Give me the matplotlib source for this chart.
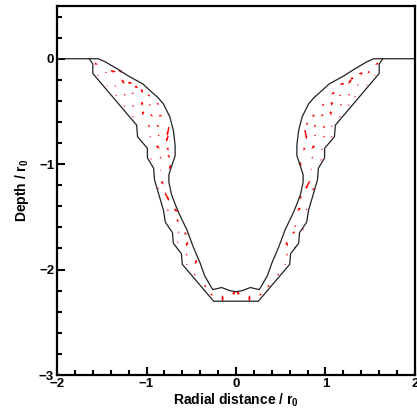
import numpy as np
import matplotlib
matplotlib.use('Agg')
import matplotlib.pyplot as plt
from matplotlib.ticker import MultipleLocator

plt.rcParams['font.family'] = ['Liberation Sans', 'DejaVu Sans']
plt.rcParams['font.weight'] = 'bold'
plt.rcParams['mathtext.fontset'] = 'custom'
plt.rcParams['mathtext.rm'] = 'Liberation Sans:bold'
plt.rcParams['mathtext.it'] = 'Liberation Sans:bold'
plt.rcParams['mathtext.bf'] = 'Liberation Sans:bold'

# crater surface (upper boundary of the deformed zone)
surf_x = [-2.00, -1.54, -1.46, -1.32, -1.21, -1.04, -0.95, -0.87, -0.81, -0.74, -0.70,
          -0.68, -0.68, -0.72, -0.75, -0.75, -0.72, -0.67, -0.63, -0.55, -0.48, -0.40,
          -0.35, -0.26, -0.16, -0.07, 0.00,
          0.07, 0.16, 0.26, 0.35, 0.40, 0.48, 0.55, 0.63, 0.67, 0.72, 0.75, 0.75, 0.72,
          0.68, 0.68, 0.70, 0.74, 0.81, 0.87, 0.95, 1.04, 1.21, 1.32, 1.46, 1.54, 2.00]
surf_y = [0.00, 0.00, -0.03, -0.10, -0.16, -0.24, -0.31, -0.37, -0.43, -0.55, -0.68,
          -0.82, -0.92, -1.02, -1.10, -1.17, -1.29, -1.40, -1.48, -1.62, -1.78, -1.94,
          -2.06, -2.19, -2.17, -2.20, -2.21,
          -2.20, -2.17, -2.19, -2.06, -1.94, -1.78, -1.62, -1.48, -1.40, -1.29, -1.17, -1.10, -1.02,
          -0.92, -0.82, -0.68, -0.55, -0.43, -0.37, -0.31, -0.24, -0.16, -0.10, -0.03, 0.00, 0.00]

# lower boundary of the deformed zone
base_x = [-1.64, -1.60, -1.60, -1.11, -1.10, -0.99, -0.99, -0.92, -0.91, -0.81, -0.79,
          -0.71, -0.70, -0.61, -0.60, -0.25,
          0.25, 0.60, 0.61, 0.70, 0.71, 0.79, 0.81, 0.91, 0.92, 0.99, 0.99, 1.10, 1.11,
          1.60, 1.60, 1.64]
base_y = [0.00, -0.05, -0.14, -0.63, -0.74, -0.85, -0.94, -1.04, -1.15, -1.44, -1.55,
          -1.65, -1.75, -1.85, -1.95, -2.30,
          -2.30, -1.95, -1.85, -1.75, -1.65, -1.55, -1.44, -1.15, -1.04, -0.94, -0.85, -0.74, -0.63,
          -0.14, -0.05, 0.00]

# velocity vectors, left half
vl_x = [-1.56, -1.50, -1.45, -1.37, -1.29, -1.54, -1.35, -1.26, -1.18, -1.11, -1.44, -1.34,
        -1.24, -1.15, -1.05, -0.97, -1.25, -1.15, -1.05, -0.96, -0.87, -1.15, -1.04, -0.94,
        -0.84, -0.97, -0.87, -0.76, -0.96, -0.86, -0.77, -0.87, -0.76, -0.95, -0.84, -0.75,
        -0.74, -0.84, -0.82, -0.77, -0.87, -0.76, -0.67, -0.65, -0.64, -0.56, -0.65, -0.55,
        -0.55, -0.45, -0.55, -0.46, -0.34, -0.27, -0.15, -0.02]
vl_y = [-0.05, -0.02, -0.13, -0.12, -0.12, -0.16, -0.26, -0.22, -0.23, -0.27, -0.26, -0.35,
        -0.34, -0.33, -0.31, -0.35, -0.45, -0.45, -0.43, -0.44, -0.43, -0.55, -0.52, -0.54,
        -0.54, -0.64, -0.64, -0.69, -0.74, -0.73, -0.76, -0.84, -0.86, -0.95, -0.94, -0.93,
        -1.03, -1.06, -1.18, -1.31, -1.23, -1.44, -1.44, -1.54, -1.65, -1.66, -1.74, -1.76,
        -1.86, -1.93, -1.95, -2.05, -2.16, -2.24, -2.27, -2.22]
vl_u = [0.034, 0.011, 0.022, 0.056, 0.034, 0.011, 0.0, 0.034, 0.045, 0.034, 0.011, 0.0,
        0.022, 0.022, 0.011, 0.022, 0.0, 0.011, 0.0, 0.022, 0.022, 0.0, -0.011, 0.022,
        0.034, 0.022, 0.022, -0.022, 0.0, 0.022, -0.022, 0.034, 0.011, 0.0, 0.022, 0.011,
        -0.022, 0.011, 0.022, 0.045, 0.0, 0.011, 0.034, 0.011, 0.0, 0.034, 0.0, -0.022,
        0.011, -0.022, 0.0, 0.011, 0.022, 0.022, 0.0, 0.034]
vl_v = [-0.010, -0.010, 0.0, -0.010, -0.029, -0.010, -0.010, -0.038, -0.010, -0.019, -0.010, -0.010,
        0.010, -0.010, -0.038, -0.019, -0.010, -0.019, -0.038, -0.010, -0.019, -0.010, -0.038, -0.019,
        0.0, -0.019, -0.019, -0.086, -0.010, -0.010, -0.057, -0.029, -0.029, -0.010, -0.010, -0.029,
        -0.038, -0.010, -0.029, -0.076, -0.010, -0.019, -0.029, -0.029, -0.019, -0.010, -0.010, -0.038,
        -0.019, -0.038, -0.010, -0.019, -0.019, -0.019, 0.057, 0.029]

# velocity vectors, right half
vr_x = [1.57, 1.48, 1.39, 1.29, 1.55, 1.46, 1.36, 1.27, 1.18, 1.08, 1.16, 1.26, 1.33,
        0.97, 1.07, 1.17, 1.26, 0.86, 0.96, 1.06, 1.16, 0.79, 0.88, 0.98, 1.07, 0.78,
        0.88, 0.98, 1.07, 0.76, 0.86, 0.96, 0.72, 0.85, 0.95, 0.84, 0.80, 0.86, 0.72,
        0.79, 0.70, 0.66, 0.75, 0.64, 0.57, 0.66, 0.57, 0.55, 0.47, 0.36, 0.27, 0.15, 0.02]
vr_y = [-0.05, -0.13, -0.14, -0.19, -0.16, -0.25, -0.25, -0.22, -0.24, -0.33, -0.35, -0.34, -0.36,
        -0.44, -0.43, -0.44, -0.44, -0.54, -0.54, -0.52, -0.55, -0.62, -0.64, -0.65, -0.64, -0.72,
        -0.73, -0.74, -0.74, -0.86, -0.84, -0.86, -1.00, -0.94, -0.96, -1.05, -1.20, -1.24, -1.32,
        -1.43, -1.43, -1.59, -1.62, -1.65, -1.76, -1.79, -1.86, -1.95, -2.05, -2.16, -2.24, -2.27, -2.22]
vr_u = [-0.034, -0.022, -0.045, -0.034, -0.011, -0.011, 0.0, -0.034, -0.045, -0.034, -0.022, -0.022, 0.0,
        -0.022, 0.0, -0.011, 0.0, -0.034, -0.022, 0.011, 0.0, -0.022, -0.022, -0.022, 0.0, 0.022,
        -0.022, -0.022, 0.0, -0.011, -0.034, 0.0, 0.022, -0.022, 0.0, -0.011, -0.045, -0.022, -0.011,
        0.0, -0.034, -0.011, 0.0, -0.034, 0.022, 0.0, -0.011, 0.0, -0.011, -0.022, -0.022, 0.0, -0.034]
vr_v = [-0.010, -0.019, 0.0, -0.019, -0.010, -0.010, -0.010, -0.038, -0.010, -0.019, -0.010, 0.010, -0.010,
        -0.019, -0.038, -0.019, -0.010, 0.0, -0.019, -0.038, -0.010, -0.019, -0.019, -0.019, -0.010, -0.086,
        -0.010, -0.010, -0.010, -0.029, -0.029, -0.010, -0.038, -0.010, -0.010, -0.010, -0.076, -0.019, -0.029,
        -0.010, -0.029, -0.019, -0.010, -0.010, -0.038, -0.010, -0.019, -0.010, -0.019, -0.019, -0.019, 0.057, 0.029]

fig = plt.figure(figsize=(4.17, 4.12), dpi=100)
ax = fig.add_axes([0.1367, 0.0898, 0.8585, 0.8956])

ax.plot(surf_x, surf_y, color='#222222', lw=0.9)
ax.plot(base_x, base_y, color='#222222', lw=0.9)

for qx, qy, qu, qv in [(vl_x, vl_y, vl_u, vl_v), (vr_x, vr_y, vr_u, vr_v)]:
    ax.quiver(qx, qy, qu, qv, angles='xy', scale_units='xy', scale=1, color='red',
              width=0.004, headwidth=2.0, headlength=2.5, headaxislength=2.2,
              minlength=1.0, pivot='mid')

ax.set_xlim(-2, 2)
ax.set_ylim(-3, 0.5)
ax.xaxis.set_major_locator(MultipleLocator(1))
ax.xaxis.set_minor_locator(MultipleLocator(0.2))
ax.yaxis.set_major_locator(MultipleLocator(1))
ax.yaxis.set_minor_locator(MultipleLocator(0.2))
ax.tick_params(which='both', direction='in', width=1.5, labelsize=9.5, pad=2)
ax.tick_params(which='major', length=6)
ax.tick_params(which='minor', length=3.5)
for s in ax.spines.values():
    s.set_linewidth(1.6)

ax.set_xlabel('Radial distance / r$_0$', fontsize=10, fontweight='bold', labelpad=1)
ax.set_ylabel('Depth / r$_0$', fontsize=10, fontweight='bold', labelpad=6)

fig.savefig('out.png', dpi=100)
